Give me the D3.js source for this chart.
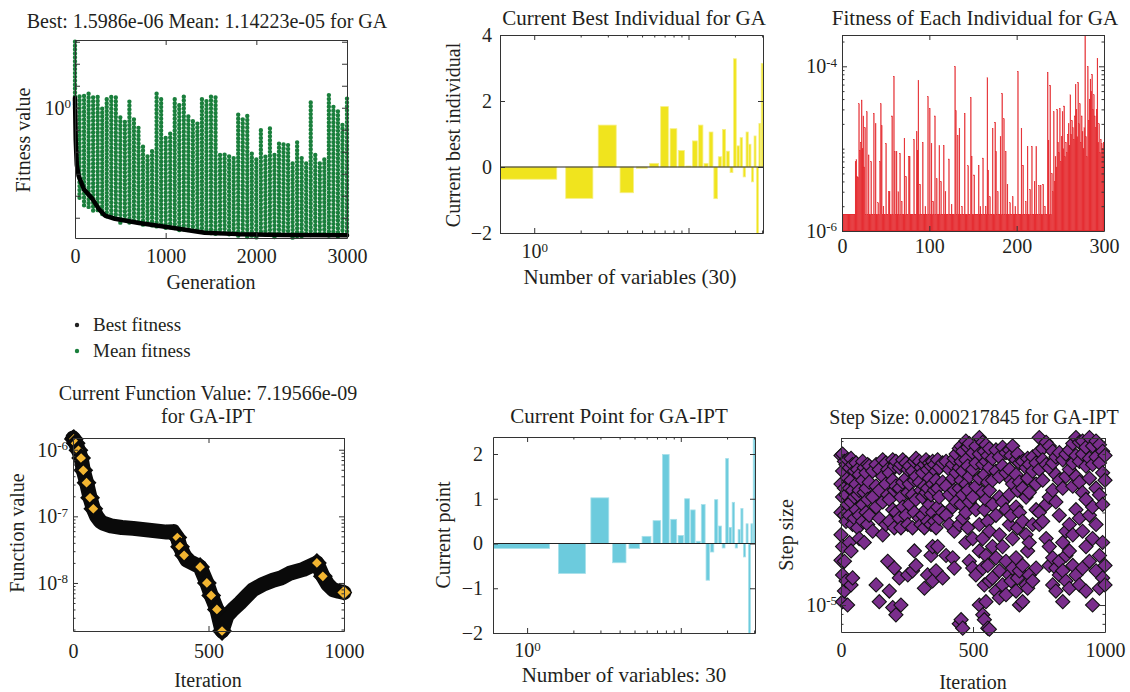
<!doctype html>
<html lang="en">
<head>
<meta charset="utf-8">
<title>GA / GA-IPT</title>
<script src="https://d3js.org/d3.v7.min.js"></script>
<style>
  body { margin: 0; background: #fff; }
  svg text { font-family: 'Liberation Serif', 'DejaVu Serif', serif; fill: #231f20; }
</style>
</head>
<body>
<svg></svg>
<script>
// ---- GA: best and mean fitness per generation
var bestGen = [0, 8, 20, 40, 100, 190, 260, 330, 440, 705, 1070, 1430, 1800, 2300, 3000];
var bestFit = [2.8, 0.035, 2.5e-3, 8e-4, 1.9e-4, 7.4e-5, 2.6e-5, 1.26e-5, 9e-6, 5.8e-6, 3.5e-6, 2.1e-6, 1.8e-6, 1.65e-6, 1.5986e-6];

// mean fitness: spread (high / low) of the dots around each generation
var meanGen = [0, 50, 100, 150, 200, 250, 300, 350, 400, 450, 500, 550, 600, 650, 700, 750, 800, 850, 900, 950,
  1000, 1050, 1100, 1150, 1200, 1250, 1300, 1350, 1400, 1450, 1500, 1550, 1600, 1650, 1700, 1750, 1800, 1850, 1900, 1950,
  2000, 2050, 2100, 2150, 2200, 2250, 2300, 2350, 2400, 2450, 2500, 2550, 2600, 2650, 2700, 2750, 2800, 2850, 2900, 2950, 3000];
var meanHi = [1e3, 4.3, 3.9, 4.3, 3.9, 3.5, 0.9, 3.2, 3.5, 2.9, 0.48, 0.26, 1.9, 0.39, 0.14, 0.017, 0.0081, 0.012, 4.3, 3.2,
  0.048, 0.066, 3.2, 1.5, 3.2, 0.53, 0.28, 0.19, 3.2, 2.3, 3.2, 3.9, 0.0081, 0.0073, 0.0081, 0.0059, 0.48, 0.39, 0.48, 0.0081,
  0.0059, 0.11, 0.0059, 0.15, 0.0081, 0.023, 0.028, 0.023, 0.0029, 0.035, 0.0059, 0.0029, 2.3, 0.0081, 0.0029, 0.0059, 4.3, 1.1, 0.9, 0.19, 2.6];
var meanLo = [0.73, 5.9e-5, 3.5e-5, 2.6e-5, 1.7e-5, 1.7e-5, 1.2e-5, 9e-6, 1.1e-5, 7.3e-6, 5.9e-6, 7.3e-6, 5.3e-6, 5.9e-6, 4.8e-6, 3.9e-6, 4.8e-6, 3.9e-6, 3.2e-6, 3.9e-6,
  3.2e-6, 2.6e-6, 2.9e-6, 2.3e-6, 2.6e-6, 2.1e-6, 1.9e-6, 2.3e-6, 1.7e-6, 1.9e-6, 1.4e-6, 1.7e-6, 1.4e-6, 1.7e-6, 1.3e-6, 1.5e-6, 1.2e-6, 1.6e-6, 1.3e-6, 1.5e-6,
  1.2e-6, 1.7e-6, 1.3e-6, 1.4e-6, 1.2e-6, 1.6e-6, 1.3e-6, 1.5e-6, 1.2e-6, 1.4e-6, 1.3e-6, 1.6e-6, 1.2e-6, 1.5e-6, 1.3e-6, 1.4e-6, 1.2e-6, 1.6e-6, 1.3e-6, 1.5e-6, 1.4e-6];

// ---- GA: current best individual (30 variables)
var bestIndividual = [-0.37, -0.95, 1.27, -0.78, -0.04, 0.11, 1.83, 1.16, 0.5, 0.03, 0.79, 1.27, 0.11, 1.06, -0.96,
  0.31, 1.14, 0.48, -0.17, 3.28, 0.64, 0.89, -0.3, 1.06, 0.69, -0.45, 0.94, -2.3, 1.32, 3.14];

// ---- GA: fitness of each of the 300 individuals, in units of 1e-6
var fitnessE6 = [
  1.6, 1.6, 1.6, 1.6, 1.6, 1.6, 1.6, 1.6, 1.6, 1.6, 1.6, 1.6, 1.6, 1.6, 1.6, 7, 7.4, 4.6, 4.5, 35,
  9.6, 12, 39, 10, 25, 6, 18, 1.6, 28, 1.6, 8.4, 1.6, 1.6, 7, 1.6, 1.6, 27, 1.6, 20, 1.6,
  1.6, 2.2, 1.6, 7, 35, 19, 1.6, 2, 1.6, 1.6, 11.6, 1.6, 1.6, 3, 3, 1.6, 1.6, 25, 1.6, 76,
  9.3, 1.6, 9.3, 1.6, 3, 1.6, 8.8, 1.6, 2.3, 1.6, 1.6, 13.4, 1.6, 4.6, 1.6, 1.6, 8.1, 8, 1.6, 1.6,
  1.6, 1.6, 13, 1.6, 1.6, 16, 9.6, 68, 1.6, 3.7, 1.6, 1.6, 12, 1.6, 1.6, 2, 1.6, 1.6, 43, 1.6,
  31, 1.6, 11.6, 1.6, 2.3, 1.6, 25, 1.6, 4.3, 1.6, 1.6, 11, 1.6, 4, 1.6, 1.6, 11, 1.6, 3, 1.6,
  1.6, 1.6, 7.5, 1.6, 1.6, 2.1, 1.6, 1.6, 1.6, 100, 29, 1.6, 14.5, 1.6, 17.7, 1.6, 1.6, 2, 1.6, 1.6,
  27, 1.6, 1.6, 1.6, 6.2, 1.6, 1.6, 42, 8.1, 1.6, 1.6, 4.8, 1.6, 1.6, 1.6, 1.6, 6.3, 1.6, 2, 1.6,
  1.6, 7.7, 1.6, 1.6, 2, 1.6, 73, 5.5, 1.6, 2.6, 1.6, 1.6, 17.7, 1.6, 1.6, 21, 9.3, 1.6, 3, 1.6,
  1.6, 14, 1.6, 47, 1.6, 23, 1.6, 9.3, 1.6, 3.7, 1.6, 1.6, 2.2, 1.6, 1.6, 2.6, 1.6, 1.6, 2, 1.6,
  1.6, 87, 1.6, 1.6, 1.6, 17.7, 1.6, 6.3, 1.6, 1.6, 2.3, 1.6, 10.7, 1.6, 1.6, 3.2, 1.6, 10.7, 1.6, 1.6,
  4, 1.6, 10.7, 1.6, 1.6, 3.6, 1.6, 3.6, 1.6, 1.6, 3.7, 1.6, 2, 1.6, 1.6, 85, 12.7, 1.6, 59, 1.6,
  5, 3, 28, 4, 8, 6, 30, 12, 9, 31, 7, 14, 28, 10, 33, 8, 12, 9, 15, 20,
  11, 45, 15, 22, 18, 13, 25, 60, 30, 14, 64, 20, 35, 12, 25, 16, 10, 18, 240, 14,
  8, 100, 22, 40, 70, 50, 80, 30, 45, 25, 18, 30, 125, 12, 20, 9, 13, 11.6, 10, 12];

// ---- GA-IPT: function value per iteration
var funcIter = [0, 3, 10, 20, 30, 38, 50, 63, 75, 87, 100, 111, 140, 180, 222, 280, 346, 370, 385, 395,
  410, 420, 440, 469, 494, 510, 531, 550, 568, 590, 616, 640, 664, 700, 738, 770, 800, 850, 900, 922, 940, 960, 980, 1000];
var funcVal = [1.5e-6, 1.45e-6, 1.25e-6, 9.8e-7, 7.5e-7, 4.9e-7, 3.2e-7, 1.9e-7, 1.3e-7, 1.0e-7,
  8.5e-8, 7.9e-8, 7.2e-8, 6.8e-8, 6.6e-8, 6.2e-8, 5.8e-8, 5.9e-8, 4.8e-8, 3.5e-8,
  2.6e-8, 2.2e-8, 2.0e-8, 1.74e-8, 1.0e-8, 6.5e-9, 4.0e-9, 1.9e-9, 3.2e-9, 4.0e-9,
  5.0e-9, 6.3e-9, 7.9e-9, 9.5e-9, 1.1e-8, 1.2e-8, 1.4e-8, 1.6e-8, 2.0e-8, 1.26e-8, 9.5e-9, 7.9e-9, 7.5e-9, 7.19566e-9];

// ---- GA-IPT: current point (30 variables)
var currentPoint = [-0.11, -0.67, 1.02, -0.43, -0.11, 0.16, 0.51, 1.99, 0.54, 0.18, 1.0, 0.75, 0.05, 0.87, -0.82,
  -0.19, 0.98, 0.39, -0.1, 1.9, 0.36, 0.92, -0.1, 0.31, 0.78, -0.3, 0.44, -2.1, 0.44, 2.38];

// ---- GA-IPT: step sizes seen around each iteration, in units of 1e-5
var stepIter = [0, 6, 13, 19, 25, 32, 38, 44, 51, 57, 63, 69, 82, 88, 95, 101, 107, 120, 133, 145,
  158, 170, 177, 183, 196, 202, 208, 221, 227, 234, 246, 253, 259, 271, 278, 284, 297, 303, 309, 316,
  322, 328, 335, 341, 347, 354, 360, 366, 372, 385, 398, 410, 423, 429, 436, 448, 455, 461, 473, 480,
  486, 499, 511, 524, 537, 543, 549, 556, 562, 574, 587, 600, 612, 625, 638, 644, 650, 663, 669, 676,
  688, 701, 707, 713, 726, 739, 751, 764, 777, 789, 802, 814, 827, 840, 852, 865, 878, 890, 903, 915,
  928, 941, 953, 966, 979, 991, 1000];
var stepSizeE5 = [
  [5.9, 4.2, 3.0, 2.3, 1.7], [6.0, 4.9, 3.6, 2.0, 1.43, 1.04], [5.5, 4.0, 2.9, 1.68, 1.18], [5.3, 3.7, 2.7, 1.33],
  [5.6, 4.5, 3.3, 1.0], [5.1, 4.0, 2.9, 2.1], [5.7, 4.4, 3.4, 1.9, 1.27], [5.3, 3.9, 2.6, 1.38],
  [4.9, 3.6, 2.8], [5.4, 4.2, 3.1], [5.0, 3.7, 2.5], [4.7, 3.9, 2.9, 2.2], [5.5, 4.4, 3.3, 2.7],
  [5.1, 3.8, 2.1], [4.8, 4.0, 3.0], [5.3, 3.5, 2.6], [5.2, 4.3, 2.9], [4.9, 3.6, 2.4],
  [5.3, 4.1, 3.2, 1.27], [5.0, 3.9, 2.8, 1.04], [5.6, 4.6, 3.4, 2.3], [5.4, 4.2, 2.6], [5.0, 3.7, 1.68],
  [4.8, 3.5, 2.7, 1.18], [5.6, 4.4, 3.1, 0.97], [5.2, 3.9, 2.5, 1.55], [5.5, 4.1, 3.0, 0.89],
  [5.1, 4.0, 2.8, 1.38], [5.3, 3.6, 2.5, 1.0], [5.6, 4.3, 3.2], [5.4, 4.5, 2.9], [5.0, 3.8, 2.6, 1.43],
  [5.2, 4.2, 3.3], [4.9, 3.7, 2.5, 1.5], [5.5, 4.4, 3.0, 1.9], [5.7, 4.6, 3.5, 1.6], [5.5, 4.3, 2.8],
  [5.1, 3.9, 2.6], [4.8, 3.6, 2.9], [5.3, 4.1, 2.5, 1.22], [5.6, 3.8, 3.1], [5.0, 4.0, 2.7, 1.43],
  [5.4, 4.5, 3.3], [5.2, 3.7, 2.6, 1.8], [5.5, 4.2, 3.0, 2.0, 1.33], [5.3, 3.9, 2.7], [4.9, 4.4, 2.5, 1.5],
  [5.6, 4.0, 3.2, 2.0], [5.1, 3.6, 2.8], [5.4, 4.3, 3.0, 1.38], [5.5, 4.1, 2.9, 1.8], [5.0, 3.7, 2.6],
  [5.3, 4.5, 3.2, 1.75], [5.7, 3.9, 2.4, 1.55], [6.0, 4.8, 3.4], [6.4, 5.1, 4.0, 2.6, 0.8],
  [6.6, 5.5, 4.4, 3.3, 0.84], [6.2, 4.9, 3.7, 2.8, 0.76], [7.0, 5.6, 4.2, 3.0, 2.1], [6.5, 5.2, 3.9, 2.5],
  [6.8, 4.6, 3.4, 1.68], [6.1, 5.0, 3.6, 2.2, 1.55], [6.6, 5.4, 4.1, 3.1, 1.43], [7.3, 6.0, 4.5, 2.6, 1.9, 1.0],
  [6.9, 5.3, 3.8, 2.2, 1.55, 0.89], [6.2, 4.7, 3.1, 1.27, 0.84], [6.7, 5.5, 3.5, 1.8, 1.04],
  [5.9, 4.3, 2.7, 1.6, 0.76], [6.4, 5.1, 3.9, 2.4, 1.33, 0.75], [5.7, 4.4, 3.3, 2.0, 1.38],
  [6.3, 4.9, 2.9, 1.75, 1.18], [5.8, 4.6, 3.6, 2.3, 1.5, 1.09], [6.5, 5.2, 3.4, 2.0, 1.27],
  [6.1, 4.8, 3.1, 1.68, 1.13], [6.3, 5.0, 3.7, 2.6, 1.43], [5.9, 4.4, 2.9, 1.33], [6.6, 4.2, 2.2, 1.55],
  [5.6, 4.7, 3.2, 1.75, 1.18], [6.0, 3.9, 2.5, 1.38], [5.4, 4.3, 3.0, 1.5, 1.0], [5.5, 4.0, 2.7, 1.6, 1.04],
  [5.1, 3.6, 2.3, 1.27], [5.7, 4.5, 1.9, 1.22], [5.3, 3.8, 2.1, 1.43], [5.8, 4.9, 2.6, 1.33],
  [5.4, 4.2, 3.1, 1.55], [7.3, 6.2, 5.0, 3.0, 2.6], [6.4, 5.6, 4.4, 2.7], [6.9, 5.3, 3.3, 2.2],
  [6.6, 5.1, 3.6, 2.0, 1.6], [6.2, 5.4, 3.9, 1.75, 1.27], [5.8, 4.7, 3.4, 1.55, 1.18],
  [6.1, 4.4, 2.9, 1.68, 1.43], [5.6, 4.0, 2.1, 1.5, 1.04], [6.0, 4.6, 2.4, 1.8, 1.33],
  [6.3, 5.0, 2.6, 1.9, 1.22], [6.8, 5.4, 4.1, 2.3, 1.6], [7.3, 5.9, 4.6, 3.1, 1.43],
  [6.9, 5.5, 4.3, 2.8, 1.27], [7.0, 6.0, 3.8, 2.4, 1.55], [6.5, 5.2, 3.5, 2.0, 1.18],
  [7.3, 5.7, 4.5, 2.9, 1.68], [6.6, 5.3, 3.2, 2.2, 1.0], [7.0, 5.8, 4.0, 2.6, 1.5],
  [6.7, 5.4, 3.7, 1.8, 1.22], [6.2, 4.8, 3.3, 2.1, 1.38], [5.9, 4.4, 1.6, 1.27]];

var svg = d3.select("svg").attr("width", 1130).attr("height", 692);
var defs = svg.append("defs");
var INK = "#333";

function clipTo(id, x, y) {
  var xr = x.range(), yr = y.range();
  defs.append("clipPath").attr("id", id).append("rect")
    .attr("x", xr[0]).attr("y", yr[1]).attr("width", xr[1] - xr[0]).attr("height", yr[0] - yr[1]);
  return "url(#" + id + ")";
}

function logMinors(lo, hi) {
  var out = [];
  for (var e = -12; e < 5; e++)
    for (var m = 2; m < 10; m++) {
      var v = m * Math.pow(10, e);
      if (v > lo && v < hi) out.push(v);
    }
  return out;
}

// "10" with a raised exponent
function sup(sel) {
  sel.each(function(d) {
    var t = d3.select(this);
    if (t.text() === "") return;
    t.text(null);
    t.append("tspan").text("10");
    t.append("tspan").attr("dy", "-0.5em").attr("font-size", "13px").text(Math.round(Math.log10(d)));
  });
}

function styleAxis(a) {
  a.attr("font-size", null).attr("font-family", null);
  a.selectAll("path.domain").attr("stroke", INK);
  a.selectAll(".tick line").attr("stroke", INK);
  a.selectAll("text").attr("font-size", "20px").attr("fill", "#231f20");
}

// box with inward ticks on all four sides
function frame(g, x, y, o) {
  var xr = x.range(), yr = y.range();
  var fmtX = function(d) { return o.xLab.indexOf(d) >= 0 ? (o.xLog ? "L" : d3.format("d")(d)) : ""; };
  var fmtY = function(d) { return o.yLab.indexOf(d) >= 0 ? (o.yLog ? "L" : d3.format("d")(d)) : ""; };

  var b = g.append("g").attr("transform", "translate(0," + yr[0] + ")")
    .call(d3.axisBottom(x).tickValues(o.xTicks).tickSize(-5).tickSizeOuter(0).tickPadding(o.xPad).tickFormat(fmtX));
  var l = g.append("g").attr("transform", "translate(" + xr[0] + ",0)")
    .call(d3.axisLeft(y).tickValues(o.yTicks).tickSize(-5).tickSizeOuter(0).tickPadding(o.yPad).tickFormat(fmtY));
  var t = g.append("g").attr("transform", "translate(0," + yr[1] + ")")
    .call(d3.axisTop(x).tickValues(o.xTicks).tickSize(-5).tickSizeOuter(0).tickFormat(""));
  var r = g.append("g").attr("transform", "translate(" + xr[1] + ",0)")
    .call(d3.axisRight(y).tickValues(o.yTicks).tickSize(-5).tickSizeOuter(0).tickFormat(""));
  [b, l, t, r].forEach(styleAxis);
  if (o.xLog) b.selectAll("text").call(sup);
  if (o.yLog) l.selectAll("text").call(sup);

  if (o.xMinor) {
    [[d3.axisBottom, yr[0]], [d3.axisTop, yr[1]]].forEach(function(p) {
      g.append("g").attr("transform", "translate(0," + p[1] + ")")
        .call(p[0](x).tickValues(o.xMinor).tickSize(-2.5).tickFormat(""))
        .call(styleAxis).select(".domain").remove();
    });
  }
  if (o.yMinor) {
    [[d3.axisLeft, xr[0]], [d3.axisRight, xr[1]]].forEach(function(p) {
      g.append("g").attr("transform", "translate(" + p[1] + ",0)")
        .call(p[0](y).tickValues(o.yMinor).tickSize(-2.5).tickFormat(""))
        .call(styleAxis).select(".domain").remove();
    });
  }
}

function label(text, x, y, anchor) {
  return svg.append("text").attr("x", x).attr("y", y).attr("text-anchor", anchor || "middle")
    .attr("font-size", "20px").text(text);
}
function ylabel(text, x, y) {
  svg.append("text").attr("transform", "translate(" + x + "," + y + ") rotate(-90)")
    .attr("text-anchor", "middle").attr("dy", "0.35em").attr("font-size", "20px").text(text);
}

function barPanel(g, x, y, vals, fill, edge, id) {
  var cp = clipTo(id, x, y);
  g.append("g").attr("clip-path", cp).selectAll("rect").data(vals).enter().append("rect")
    .attr("x", function(d, i) { return x(i + 1 - 0.4); })
    .attr("width", function(d, i) { return x(i + 1 + 0.4) - x(i + 1 - 0.4); })
    .attr("y", function(d) { return y(Math.max(0, d)); })
    .attr("height", function(d) { return Math.abs(y(d) - y(0)); })
    .attr("fill", fill).attr("stroke", edge).attr("stroke-width", 0.8);
  g.append("line").attr("x1", x.range()[0]).attr("x2", x.range()[1])
    .attr("y1", y(0)).attr("y2", y(0)).attr("stroke", "#222").attr("stroke-width", 1);
}

var varMinors = [2, 3, 4, 5, 6, 7, 8, 9, 20, 30];

// ---------- panel 1: best / mean fitness
var p1 = svg.append("g");
var x1 = d3.scaleLinear().domain([0, 3000]).range([75, 347]);
var y1 = d3.scaleLog().domain([1.2e-6, 1.2e3]).range([238, 40]);

p1.append("g").selectAll("line").data(meanGen).enter().append("line")
  .attr("x1", function(d) { return x1(d); }).attr("x2", function(d) { return x1(d); })
  .attr("y1", function(d, i) { return y1(meanHi[i]); })
  .attr("y2", function(d, i) { return y1(meanLo[i]); })
  .attr("stroke", "#1a7f3c").attr("stroke-width", 4.4)
  .attr("stroke-linecap", "round").attr("stroke-dasharray", "0 3.9")
  .attr("stroke-dashoffset", function(d, i) { return (i % 3) * 1.3; });

p1.append("path").datum(bestGen)
  .attr("d", d3.line().x(function(d) { return x1(d); }).y(function(d, i) { return y1(bestFit[i]); }))
  .attr("fill", "none").attr("stroke", "#000").attr("stroke-width", 4.5)
  .attr("stroke-linejoin", "round").attr("stroke-linecap", "round");

frame(p1, x1, y1, {
  xTicks: [0, 1000, 2000, 3000], xLab: [0, 1000, 2000, 3000], xPad: 11,
  yTicks: [1e-5, 1e-4, 1e-3, 1e-2, 1e-1, 1, 10, 100, 1000], yLab: [1], yLog: true, yPad: 4
});
label("Best: 1.5986e-06 Mean: 1.14223e-05 for GA", 207, 28);
label("Generation", 211, 289);
ylabel("Fitness value", 23, 140);

// legend
svg.append("circle").attr("cx", 77).attr("cy", 325).attr("r", 2.2).attr("fill", "#222");
svg.append("circle").attr("cx", 77).attr("cy", 351).attr("r", 2.2).attr("fill", "#1a7f3c");
label("Best fitness", 93, 331, "start").attr("font-size", "19px");
label("Mean fitness", 93, 357, "start").attr("font-size", "19px");

// ---------- panel 2: current best individual
var p2 = svg.append("g");
var x2 = d3.scaleLog().domain([0.6, 30.4]).range([500, 763]);
var y2 = d3.scaleLinear().domain([-2, 4]).range([233, 35]);
barPanel(p2, x2, y2, bestIndividual, "#f0e41e", "#f6ef86", "c2");
frame(p2, x2, y2, {
  xTicks: [1, 10], xLab: [1], xLog: true, xMinor: varMinors, xPad: 11,
  yTicks: [-2, 0, 2, 4], yLab: [-2, 0, 2, 4], yPad: 8
});
label("Current Best Individual for GA", 634, 25).attr("font-size", "21px");
label("Number of variables (30)", 630, 284).attr("font-size", "21px");
ylabel("Current best individual", 453, 135);

// ---------- panel 3: fitness of each individual
var p3 = svg.append("g");
var x3 = d3.scaleLinear().domain([0, 300]).range([842, 1104]);
var y3 = d3.scaleLog().domain([1e-6, 2.4e-4]).range([231, 35]);
p3.append("g").attr("clip-path", clipTo("c3", x3, y3)).selectAll("rect").data(fitnessE6).enter().append("rect")
  .attr("x", function(d, i) { return x3(i); })
  .attr("width", x3(1) - x3(0))
  .attr("y", function(d) { return y3(d * 1e-6); })
  .attr("height", function(d) { return y3(1e-6) - y3(d * 1e-6); })
  .attr("fill", "#e4252a").attr("stroke", "#e4252a").attr("stroke-width", 0.25);
frame(p3, x3, y3, {
  xTicks: [0, 100, 200, 300], xLab: [0, 100, 200, 300], xPad: 8,
  yTicks: [1e-6, 1e-4], yLab: [1e-6, 1e-4], yLog: true, yMinor: logMinors(1e-6, 2.4e-4).concat([1e-5]), yPad: 5
});
label("Fitness of Each Individual for GA", 975, 25).attr("font-size", "21px");

// ---------- panel 4: function value
var p4 = svg.append("g");
var x4 = d3.scaleLinear().domain([0, 1000]).range([73, 344]);
var y4 = d3.scaleLog().domain(d3.extent(funcVal)).range([631, 438]);
var diamond = function(s) { return d3.symbol(d3.symbolSquare, s)(); };
p4.append("path").datum(funcIter)
  .attr("d", d3.line().x(function(d) { return x4(d); }).y(function(d, i) { return y4(funcVal[i]); }))
  .attr("fill", "none").attr("stroke", "#0a0a0a").attr("stroke-width", 15)
  .attr("stroke-linejoin", "round").attr("stroke-linecap", "round");
// markers where the curve is steep show through, plus both ends
var funcPts = funcIter.map(function(it, i) { return { it: it, v: funcVal[i], i: i }; });
var last = funcPts.length - 1;
var steep = funcPts.filter(function(p, i) {
  if (i === 0 || i === last) return true;
  var q = funcPts[i + 1];
  return Math.abs(y4(q.v) - y4(p.v)) > 1.6 * Math.abs(x4(q.it) - x4(p.it));
});
p4.selectAll("path.m").data(steep).enter().append("path").attr("class", "m")
  .attr("d", diamond(110))
  .attr("transform", function(d) { return "translate(" + x4(d.it) + "," + y4(d.v) + ") rotate(45)"; })
  .attr("fill", "#f2b531").attr("stroke", "#0a0a0a")
  .attr("stroke-width", function(d) { return d.i === 0 || d.i === last ? 1.2 : 3.6; });
frame(p4, x4, y4, {
  xTicks: [0, 500, 1000], xLab: [0, 500, 1000], xPad: 13,
  yTicks: [1e-8, 1e-7, 1e-6], yLab: [1e-8, 1e-7, 1e-6], yLog: true, yMinor: logMinors(1.9e-9, 1.5e-6), yPad: 5
});
label("Current Function Value: 7.19566e-09", 208, 400);
label("for GA-IPT", 208, 423);
label("Iteration", 208, 687);
ylabel("Function value", 17, 533);

// ---------- panel 5: current point
var p5 = svg.append("g");
var x5 = d3.scaleLog().domain([0.6, 30.4]).range([493, 755]);
var y5 = d3.scaleLinear().domain([-2, d3.max(currentPoint)]).range([633, 437]);
barPanel(p5, x5, y5, currentPoint, "#6ccbdd", "#a8e0ea", "c5");
frame(p5, x5, y5, {
  xTicks: [1, 10], xLab: [1], xLog: true, xMinor: varMinors, xPad: 10,
  yTicks: [-2, -1, 0, 1, 2], yLab: [-2, -1, 0, 1, 2], yPad: 10
});
label("Current Point for GA-IPT", 619, 423).attr("font-size", "21px");
label("Number of variables: 30", 624, 682).attr("font-size", "21px");
ylabel("Current point", 443, 535);

// ---------- panel 6: step size
var p6 = svg.append("g");
var x6 = d3.scaleLinear().domain([0, 1000]).range([841, 1105]);
var y6 = d3.scaleLog().domain([7.26e-6, 7.26e-5]).range([632, 438]);
var stepPts = d3.merge(stepSizeE5.map(function(vs, i) {
  return vs.map(function(v) { return { it: stepIter[i], v: v * 1e-5 }; });
}));
p6.selectAll("path.s").data(stepPts).enter().append("path").attr("class", "s")
  .attr("d", diamond(100))
  .attr("transform", function(d) { return "translate(" + x6(d.it) + "," + y6(d.v) + ") rotate(45)"; })
  .attr("fill", "#7a2e8c").attr("stroke", "#111").attr("stroke-width", 1.1);
frame(p6, x6, y6, {
  xTicks: [0, 500, 1000], xLab: [0, 500, 1000], xPad: 11,
  yTicks: [1e-5], yLab: [1e-5], yLog: true, yMinor: logMinors(7.26e-6, 7.26e-5), yPad: 4
});
label("Step Size: 0.000217845 for GA-IPT", 974, 424);
label("Iteration", 973, 689);
ylabel("Step size", 786, 535);
</script>
</body>
</html>
